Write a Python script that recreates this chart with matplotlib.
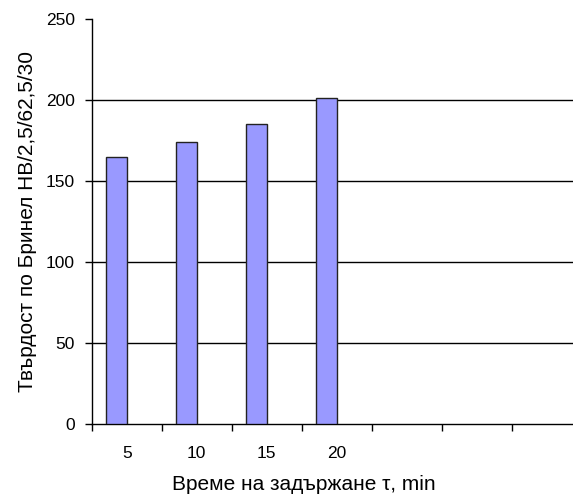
import matplotlib
matplotlib.use("Agg")
import matplotlib.pyplot as plt
from matplotlib.ticker import FixedLocator, NullFormatter, FixedFormatter

plt.rcParams['font.family'] = ['Liberation Sans', 'DejaVu Sans']

# Holding time categories (min) and measured Brinell hardness
categories = ["5", "10", "15", "20", "", "", ""]
hardness = [165, 174, 185, 201]
y_ticks = [0, 50, 100, 150, 200, 250]

fig = plt.figure(figsize=(5.73, 4.95), dpi=100)
ax = fig.add_axes([91.7 / 573, 71 / 495, 490 / 573, 405 / 495])

n = len(categories)
width = 0.29
xs = [i - width / 2 for i in range(len(hardness))]
ax.bar(xs, hardness, width=width, color="#9999FF", edgecolor="#222222",
       linewidth=1.0, zorder=3)

ax.set_xlim(-0.5, n - 0.5)
ax.set_ylim(0, 250)

# Horizontal grid lines
for y in y_ticks[1:-1]:
    ax.axhline(y, color="black", linewidth=1.0, zorder=1)

ax.set_yticks(y_ticks)
ax.set_yticklabels([str(v) for v in y_ticks], fontsize=12.5)
ax.tick_params(axis="y", direction="out", length=5, width=1, pad=7)

# Category boundaries as tick marks, labels centred in each slot
ax.xaxis.set_major_locator(FixedLocator([i - 0.5 for i in range(n + 1)]))
ax.xaxis.set_major_formatter(NullFormatter())
ax.xaxis.set_minor_locator(FixedLocator(list(range(n))))
ax.xaxis.set_minor_formatter(FixedFormatter(categories))
ax.tick_params(axis="x", which="major", direction="out", length=5, width=1)
ax.tick_params(axis="x", which="minor", length=0, pad=16, labelsize=12.5)

for side in ("top", "right"):
    ax.spines[side].set_visible(False)
for side in ("left", "bottom"):
    ax.spines[side].set_linewidth(1.0)

ax.set_ylabel("Твърдост по Бринел HB/2,5/62,5/30", fontsize=15)
ax.set_xlabel("Време на задържане τ, min", fontsize=15)
ax.xaxis.set_label_coords((304 - 91.7) / 490, -51 / 405)
ax.yaxis.set_label_coords(-(91.7 - 37) / 490, 0.5)

fig.savefig("out.png", dpi=100, facecolor="white")
